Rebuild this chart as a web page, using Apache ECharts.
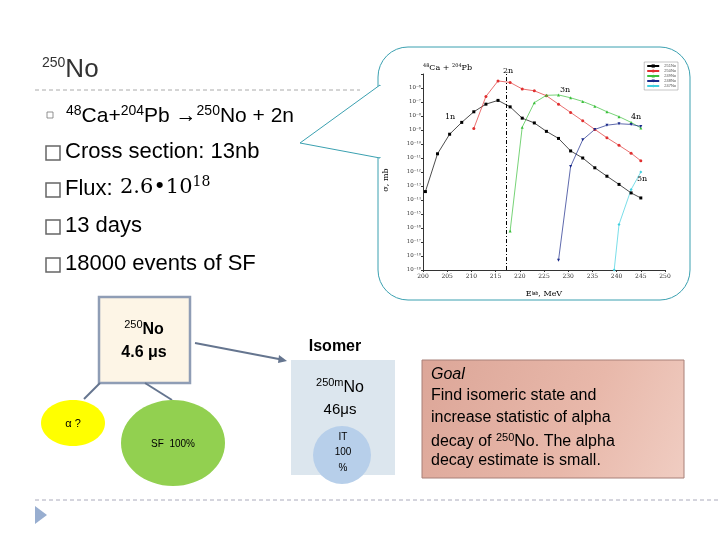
<!DOCTYPE html>
<html><head><meta charset="utf-8">
<script src="https://cdn.jsdelivr.net/npm/echarts@6/dist/echarts.min.js"></script>
<style>html,body{margin:0;padding:0;background:#fff}#c{width:720px;height:540px}</style>
</head><body><div id="c"></div>
<script>
const seriesNames = ['251No','250No','249No','248No','247No'];
const colors = ['#000000','#e03030','#3cc03c','#1a2a8a','#40d0e0'];
const e1n = [200.5,203,205.5,208,210.5,213,215.5,218,220.5,223,225.5,228,230.5,233,235.5,238,240.5,243,245];
const v1n = [4e-14,2e-11,5e-10,3.5e-9,2e-8,7e-8,1.3e-7,4.5e-8,7e-9,3.2e-9,8e-10,2.5e-10,3.2e-11,1e-11,2e-12,5e-13,1.3e-13,3.2e-14,1.4e-14];
const e2n = [210.5,213,215.5,218,220.5,223,225.5,228,230.5,233,235.5,238,240.5,243,245];
const v2n = [1.3e-9,2.5e-7,3.2e-6,2.5e-6,8.5e-7,6.3e-7,2.8e-7,7e-8,1.8e-8,4.5e-9,1.1e-9,2.8e-10,8e-11,2.2e-11,6.3e-12];
const e3n = [218,220.5,223,225.5,228,230.5,233,235.5,238,240.5,243,245];
const v3n = [6e-17,1.6e-9,9e-8,3e-7,3.2e-7,2e-7,1.1e-7,5e-8,2e-8,9e-9,3.5e-9,1.4e-9];
const e4n = [228,230.5,233,235.5,238,240.5,243,245];
const v4n = [5e-19,2.5e-12,2e-10,1.1e-9,2.2e-9,2.8e-9,2.5e-9,1.8e-9];
const e5n = [239.5,240.5,243,245];
const v5n = [1e-19,1.8e-16,5.6e-14,1e-12];
const xTicks = [200,205,210,215,220,225,230,235,240,245,250];
const xLine = 217.3;
const supMap = {'-':'⁻','0':'⁰','1':'¹','2':'²','3':'³','4':'⁴','5':'⁵','6':'⁶','7':'⁷','8':'⁸','9':'⁹'};
const pairs = (e,v)=>e.map((x,i)=>[x,v[i]]);
const allData = [pairs(e1n,v1n),pairs(e2n,v2n),pairs(e3n,v3n),pairs(e4n,v4n),pairs(e5n,v5n)];
const symbols = ['rect','circle','triangle','path://M0,0L10,0L5,10Z','diamond'];
const chart = echarts.init(document.getElementById('c'));
const F = 'Liberation Sans, Arial, sans-serif';
function t(x,y,text,opt){return {type:'text',x:x,y:y,style:Object.assign({text:text,fill:'#000',font:'20px '+F},opt||{})};}
const bullets = [['Cross section: 13nb',153],['Flux: ',190],['13 days',227],['18000 events of SF',265]];
const graphic = [
  {type:'polygon',shape:{points:[[380,85],[300,143],[380,158]]},style:{fill:'#fff',stroke:'#3aa0b0',lineWidth:1},z:-2},
  {type:'rect',shape:{x:378,y:47,width:312,height:253,r:30},style:{fill:'#fff',stroke:'#3aa0b0',lineWidth:1},z:-3},
  {type:'rect',shape:{x:379,y:86,width:4,height:71},style:{fill:'#fff'},z:-1},
  {type:'text',x:42,y:56,style:{text:'{s|250}{b|No}',rich:{s:{fontSize:14,fontFamily:F,fill:'#333',padding:[0,0,14,0]},b:{fontSize:26,fontFamily:F,fill:'#333'}}}},
  {type:'line',shape:{x1:35,y1:90,x2:360,y2:90},style:{stroke:'#aaa',lineDash:[4,3]},z:-4},
  {type:'text',x:66,y:104,style:{text:'{s|48}{b|Ca+}{s|204}{b|Pb →}{s|250}{b|No + 2n}',rich:{s:{fontSize:14,fontFamily:F,fill:'#000',padding:[0,0,10,0]},b:{fontSize:21,fontFamily:F,fill:'#000'}}}},
  {type:'rect',shape:{x:47,y:112,width:6,height:6},style:{fill:'none',stroke:'#777',lineWidth:0.8}},
  ...bullets.map(b=>({type:'rect',shape:{x:46,y:b[1]-7,width:14,height:14},style:{fill:'none',stroke:'#666',lineWidth:1.5}})),
  ...bullets.map(b=>t(65,b[1]-12,b[0],{font:'22px '+F})),
  {type:'text',x:120,y:175,style:{text:'{a|2.6•10}{s|18}',rich:{a:{fontSize:21,fontFamily:'DejaVu Serif',fill:'#000'},s:{fontSize:14,fontFamily:'DejaVu Serif',fill:'#000',padding:[0,0,12,0]}}}},
  {type:'rect',shape:{x:99,y:297,width:91,height:86},style:{fill:'#fdf5e6',stroke:'#8f9db5',lineWidth:2.5}},
  {type:'text',x:144,y:330,style:{text:'{s|250}{b|No}',align:'center',verticalAlign:'middle',rich:{s:{fontSize:11,fontFamily:F,padding:[0,0,10,0]},b:{fontSize:16,fontFamily:F,fontWeight:'bold'}}}},
  t(144,353,'4.6 μs',{font:'bold 16px '+F,align:'center',verticalAlign:'middle'}),
  {type:'line',shape:{x1:195,y1:343,x2:284,y2:360},style:{stroke:'#65758f',lineWidth:2}},
  {type:'polygon',shape:{points:[[287,361],[279,355],[278,363]]},style:{fill:'#65758f'}},
  {type:'line',shape:{x1:100,y1:383,x2:84,y2:399},style:{stroke:'#65758f',lineWidth:2}},
  {type:'line',shape:{x1:145,y1:383,x2:172,y2:400},style:{stroke:'#65758f',lineWidth:2}},
  {type:'ellipse',shape:{cx:73,cy:423,rx:32,ry:23},style:{fill:'#ffff00'}},
  t(73,424,'α ?',{font:'11px '+F,align:'center',verticalAlign:'middle'}),
  {type:'ellipse',shape:{cx:173,cy:443,rx:52,ry:43},style:{fill:'#92d050'}},
  t(173,444,'SF  100%',{font:'10px '+F,align:'center',verticalAlign:'middle'}),
  t(335,347,'Isomer',{font:'bold 16px '+F,align:'center',verticalAlign:'middle'}),
  {type:'rect',shape:{x:291,y:360,width:104,height:115},style:{fill:'#dce6ee'}},
  {type:'text',x:340,y:388,style:{text:'{s|250m}{b|No}',align:'center',verticalAlign:'middle',rich:{s:{fontSize:11,fontFamily:F,padding:[0,0,10,0]},b:{fontSize:16,fontFamily:F}}}},
  t(340,410,'46μs',{font:'15px '+F,align:'center',verticalAlign:'middle'}),
  {type:'circle',shape:{cx:342,cy:455,r:29},style:{fill:'#b7cfea'}},
  t(343,437,'IT',{font:'10px '+F,align:'center',verticalAlign:'middle'}),
  t(343,452,'100',{font:'10px '+F,align:'center',verticalAlign:'middle'}),
  t(343,468,'%',{font:'10px '+F,align:'center',verticalAlign:'middle'}),
  {type:'rect',shape:{x:422,y:360,width:262,height:118},style:{fill:new echarts.graphic.LinearGradient(0,0,1,1,[{offset:0,color:'#dca698'},{offset:0.6,color:'#e8b8aa'},{offset:1,color:'#f0cdc2'}]),stroke:'#a88078',lineWidth:1}},
  t(431,367,'Goal',{font:'italic 16px '+F}),
  t(431,388,'Find isomeric state and',{font:'16px '+F}),
  t(431,410,'increase statistic of alpha',{font:'16px '+F}),
  {type:'text',x:431,y:432,style:{text:'{b|decay of }{s|250}{b|No. The alpha}',rich:{s:{fontSize:11,fontFamily:F,padding:[0,0,9,0]},b:{fontSize:16,fontFamily:F}}}},
  t(431,453,'decay estimate is small.',{font:'16px '+F}),
  {type:'line',shape:{x1:35,y1:500,x2:720,y2:500},style:{stroke:'#aab',lineDash:[4,3]}},
  {type:'polygon',shape:{points:[[35,506],[47,515],[35,524]]},style:{fill:'#98aed0'}},
  t(423,63,'{s|48}{b|Ca + }{s|204}{b|Pb}',{rich:{s:{fontSize:5,fontFamily:'DejaVu Serif',padding:[0,0,4,0]},b:{fontSize:8,fontFamily:'DejaVu Serif'}}}),
  t(503,67,'2n',{font:'8px DejaVu Serif'}),t(445,113,'1n',{font:'8px DejaVu Serif'}),
  t(560,86,'3n',{font:'8px DejaVu Serif'}),t(631,113,'4n',{font:'8px DejaVu Serif'}),
  t(637,175,'5n',{font:'8px DejaVu Serif'}),
  t(544,290,'E{s|lab}, MeV',{font:'8px DejaVu Serif',align:'center',rich:{s:{fontSize:5}}}),
  {type:'text',x:386,y:180,rotation:Math.PI/2,style:{text:'σ, mb',font:'8px DejaVu Serif',fill:'#000',align:'center',verticalAlign:'middle'}}
];
chart.setOption({
  animation:false,
  graphic:graphic,
  legend:{right:42,top:62,orient:'vertical',itemWidth:12,itemHeight:4,itemGap:1,
    textStyle:{fontSize:4,color:'#555'},backgroundColor:'#fff',borderColor:'#888',borderWidth:0.5,padding:2,
    data:seriesNames},
  grid:{left:423,right:55,top:74,bottom:270},
  xAxis:{type:'value',min:200,max:250,interval:5,axisLine:{lineStyle:{color:'#333'}},axisTick:{length:2},
    axisLabel:{fontSize:6,fontFamily:'DejaVu Serif',color:'#333',margin:3},splitLine:{show:false}},
  yAxis:{type:'log',min:1e-19,max:1e-5,logBase:10,interval:1,axisLine:{show:true,lineStyle:{color:'#333'}},axisTick:{show:true,length:2},
    axisLabel:{fontSize:5.5,fontFamily:'DejaVu Serif',color:'#333',margin:2,
      formatter:v=>{const e=Math.round(Math.log10(v));if(e>-6)return '';return '10'+String(e).split('').map(c=>supMap[c]).join('');}},
    splitLine:{show:false}},
  series:seriesNames.map((n,i)=>({name:n,type:'line',data:allData[i],symbol:symbols[i],symbolSize:3,
    lineStyle:{color:colors[i],width:0.7},itemStyle:{color:colors[i]},
    markLine:i===0?{silent:true,symbol:'none',label:{show:false},lineStyle:{color:'#000',type:[4,2,1,2],width:1},data:[{xAxis:xLine}]}:undefined}))
});
</script></body></html>
